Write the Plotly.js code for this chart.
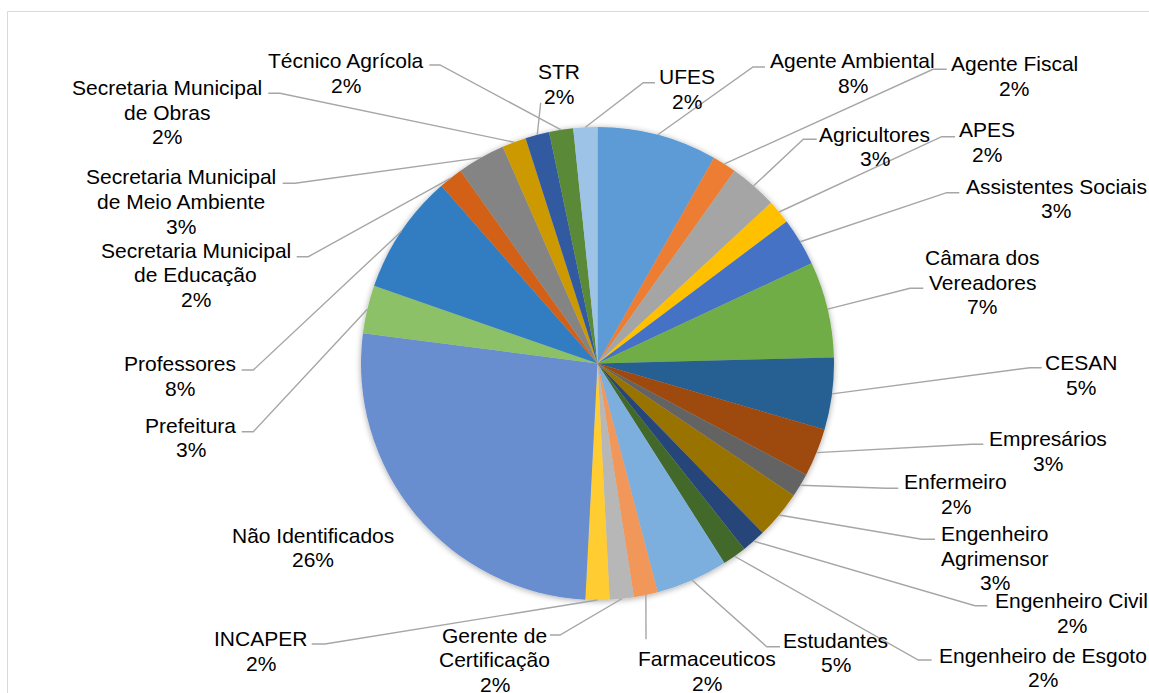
<!DOCTYPE html>
<html>
<head>
<meta charset="utf-8">
<script src="https://cdn.plot.ly/plotly-3.0.1.min.js"></script>
<style>
  html, body { margin: 0; padding: 0; background: #ffffff; }
  #chart { width: 1149px; height: 693px; }
</style>
</head>
<body>
<div id="chart"></div>
<script>
// Respondents by institution / occupation ("\n" marks where the label wraps)
const categories = [
  'Agente Ambiental', 'Agente Fiscal', 'Agricultores', 'APES', 'Assistentes Sociais',
  'Câmara dos\nVereadores', 'CESAN', 'Empresários', 'Enfermeiro', 'Engenheiro\nAgrimensor',
  'Engenheiro Civil', 'Engenheiro de Esgoto', 'Estudantes', 'Farmaceuticos', 'Gerente de\nCertificação',
  'INCAPER', 'Não Identificados', 'Prefeitura', 'Professores', 'Secretaria Municipal\nde Educação',
  'Secretaria Municipal\nde Meio Ambiente', 'Secretaria Municipal\nde Obras', 'STR', 'Técnico Agrícola', 'UFES'
];
const counts = [5, 1, 2, 1, 2, 4, 3, 2, 1, 2, 1, 1, 3, 1, 1, 1, 16, 2, 5, 1, 2, 1, 1, 1, 1];

const sliceColors = [
  '#5B9BD5', '#ED7D31', '#A5A5A5', '#FFC000', '#4472C4',
  '#70AD47', '#255E91', '#9E480E', '#636363', '#997300',
  '#264478', '#43682B', '#7CAFDD', '#F1975A', '#B7B7B7',
  '#FFCD33', '#698ED0', '#8CC168', '#327DC2', '#D26012',
  '#848484', '#CC9A00', '#335AA1', '#5A8A39', '#9DC3E6'
];

// Label placement in page pixels: centre x and first-line y of each label
const labelAnchors = [
  [852.5, 61], [1014, 63.3], [874.7, 134], [987.5, 130], [1056, 186],
  [982.3, 257.3], [1081, 362.7], [1047.5, 438.3], [955.7, 481.7], [994.5, 533.3],
  [1071.5, 600.7], [1043.3, 655], [835.5, 640], [706.7, 658.3], [494.5, 635],
  [260.8, 638.3], [313.3, 535], [190.5, 425], [180, 363.3], [195.8, 250],
  [180.8, 176.7], [166.7, 87.3], [559, 71.7], [345.7, 60.7], [686.7, 76.7]
];
// Leader lines: knee point and end point next to the label (page pixels); null = no leader
const leaderPoints = [
  [[753, 67], [765, 67]], [[933, 69.3], [946.7, 69.3]], [[803.3, 139.3], [816.7, 139.3]],
  [[941.7, 136.7], [955, 136.7]], [[946.7, 192.7], [959.3, 192.7]],
  [[910, 288.3], [923.3, 288.3]], [[1030, 367.7], [1041.7, 367.7]], [[971.7, 444.3], [983.3, 444.3]],
  [[886, 488.3], [898.3, 488.3]], [[921.7, 539.3], [935, 539.3]],
  [[975, 605.7], [987.3, 605.7]], [[918.3, 660], [931.7, 660]], [[766.7, 646.7], [780, 646.7]],
  [[646, 639.3], [646, 639.3]], [[560, 635], [550, 635]],
  [[325, 644], [311.7, 644]], null, [[253.3, 431.7], [241.7, 431.7]],
  [[253.3, 370], [241.7, 370]], [[308.3, 256.7], [296.7, 256.7]],
  [[295, 183.3], [282.7, 183.3]], [[280, 93.3], [268.3, 93.3]], [[540.7, 102.7], [540.7, 102.7]],
  [[440, 65], [429.3, 65]], [[643.3, 82.7], [655, 82.7]]
];

const W = 1149, H = 693;
const PIE = { cx: 597.5, cy: 363.5, r: 236.5 };
const LINE_GAP = 24.8;
const FONT = { family: 'Liberation Sans, Arial, sans-serif', size: 21, color: '#000000' };

const px = x => x / W;
const py = y => 1 - y / H;

const total = counts.reduce((a, b) => a + b, 0);
const names = categories.map(c => c.replace('\n', ' '));

const annotations = [];
const shapes = [];

// outer chart-area frame
shapes.push({
  type: 'rect', xref: 'paper', yref: 'paper',
  x0: px(7.5), x1: 1.02, y0: -0.02, y1: py(11.5),
  line: { color: '#D9D9D9', width: 1 }, fillcolor: 'rgba(0,0,0,0)', layer: 'below'
});

let cum = 0;
counts.forEach((v, i) => {
  const pct = Math.round(v / total * 100) + '%';
  const lines = categories[i].split('\n').concat([pct]);
  const [ax, ay] = labelAnchors[i];
  lines.forEach((t, k) => {
    annotations.push({
      xref: 'paper', yref: 'paper', x: px(ax), y: py(ay + k * LINE_GAP),
      xanchor: 'center', yanchor: 'middle', showarrow: false,
      text: t, font: FONT
    });
  });

  // leader line from the slice edge at its mid-angle
  const mid = (cum + v / 2) / total * 2 * Math.PI;
  cum += v;
  const lp = leaderPoints[i];
  if (!lp) return;
  const ex = PIE.cx + PIE.r * Math.sin(mid);
  const ey = PIE.cy - PIE.r * Math.cos(mid);
  const pts = [[ex, ey], lp[0], lp[1]];
  const path = pts.map((p, k) => (k ? 'L' : 'M') + px(p[0]).toFixed(5) + ',' + py(p[1]).toFixed(5)).join(' ');
  shapes.push({
    type: 'path', xref: 'paper', yref: 'paper', path: path,
    line: { color: '#A6A6A6', width: 1.4 }, layer: 'above'
  });
});

const trace = {
  type: 'pie',
  labels: names,
  values: counts,
  sort: false,
  direction: 'clockwise',
  rotation: 0,
  marker: { colors: sliceColors, line: { width: 0 } },
  textinfo: 'none',
  hoverinfo: 'label+percent',
  showlegend: false,
  domain: {
    x: [px(PIE.cx - PIE.r), px(PIE.cx + PIE.r)],
    y: [py(PIE.cy + PIE.r), py(PIE.cy - PIE.r)]
  }
};

const layout = {
  width: W, height: H,
  margin: { l: 0, r: 0, t: 0, b: 0 },
  paper_bgcolor: '#FFFFFF',
  showlegend: false,
  annotations: annotations,
  shapes: shapes
};

Plotly.newPlot('chart', [trace], layout, { staticPlot: true, displayModeBar: false }).then(gd => {
  // soft shadow around the pie
  const svg = gd.querySelector('svg.main-svg');
  const ns = 'http://www.w3.org/2000/svg';
  let defs = svg.querySelector('defs');
  if (!defs) { defs = document.createElementNS(ns, 'defs'); svg.insertBefore(defs, svg.firstChild); }
  const f = document.createElementNS(ns, 'filter');
  f.setAttribute('id', 'pieShadow');
  f.setAttribute('x', '-10%'); f.setAttribute('y', '-10%');
  f.setAttribute('width', '120%'); f.setAttribute('height', '120%');
  f.innerHTML =
    '<feGaussianBlur in="SourceAlpha" stdDeviation="3"/>' +
    '<feOffset dx="0" dy="1" result="b"/>' +
    '<feComponentTransfer><feFuncA type="linear" slope="0.35"/></feComponentTransfer>' +
    '<feMerge><feMergeNode/><feMergeNode in="SourceGraphic"/></feMerge>';
  defs.appendChild(f);
  const pieTrace = gd.querySelector('.pielayer .trace');
  if (pieTrace) pieTrace.setAttribute('filter', 'url(#pieShadow)');
});
</script>
</body>
</html>
